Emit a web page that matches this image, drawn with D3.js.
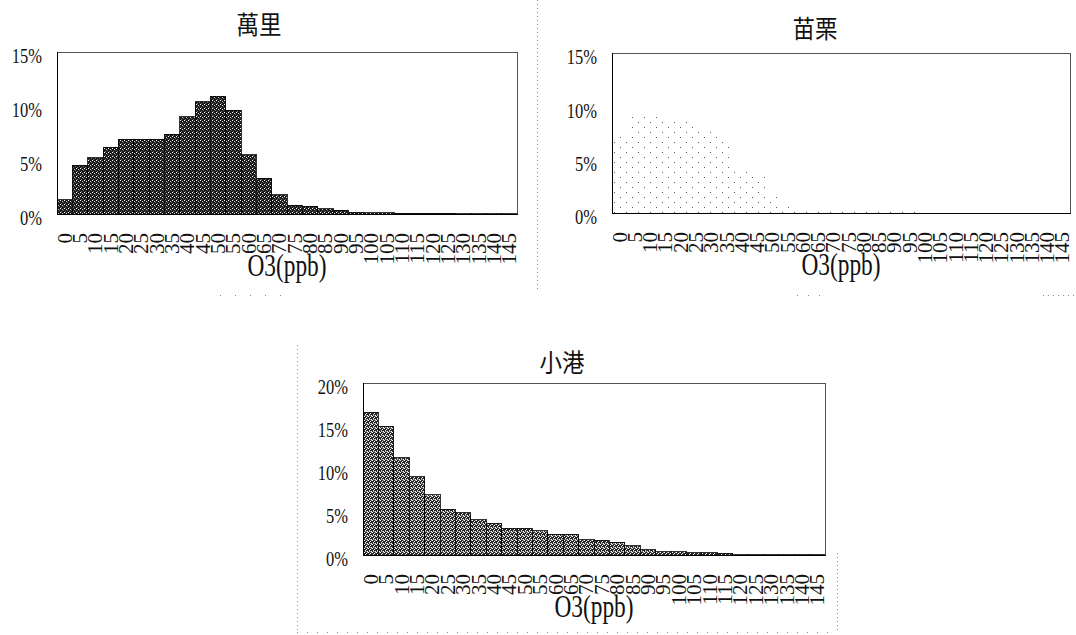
<!DOCTYPE html>
<html><head><meta charset="utf-8">
<script src="https://cdn.jsdelivr.net/npm/d3@7"></script>
<style>body{margin:0;background:#fff;} svg{display:block;}</style>
</head><body><svg id="c" width="1076" height="635"></svg>
<script>
const binLabels = ["0","5","10","15","20","25","30","35","40","45","50","55","60","65","70","75","80","85","90","95","100","105","110","115","120","125","130","135","140","145"];
const wanliValues = [1.3,4.5,5.2,6.2,6.9,6.9,6.9,7.4,9.0,10.4,10.9,9.6,5.5,3.3,1.8,0.8,0.7,0.5,0.35,0.15,0.1,0.1,0.05,0.05,0.05,0.05,0.03,0.03,0.02,0.02];
const miaoliValues = [7.1,9.2,9.0,8.8,8.7,8.3,7.6,7.0,4.0,3.4,1.8,0.6,0.5,0.4,0.3,0.25,0.2,0.05,0.05,0.05,0.03,0.03,0.03,0.02,0.02,0.02,0.02,0.02,0.02,0.02];
const xiaogangValues = [16.6,15.0,11.3,9.1,7.0,5.3,4.9,4.1,3.7,3.1,3.1,2.8,2.4,2.4,1.8,1.7,1.5,1.1,0.6,0.4,0.4,0.25,0.25,0.2,0.05,0.05,0.03,0.03,0.02,0.02];
const ticks15 = [0,5,10,15];
const ticks20 = [0,5,10,15,20];
const titles = ["萬里","苗栗","小港"];
const xTitle = "O3(ppb)";

const svg = d3.select("#c");
const defs = svg.append("defs");
function texPattern(id, base, px){
  const p = defs.append("pattern").attr("id", id).attr("patternUnits","userSpaceOnUse").attr("width",4).attr("height",4);
  p.append("rect").attr("width",4).attr("height",4).attr("fill",base);
  px.forEach(d => p.append("rect").attr("x",d[0]).attr("y",d[1]).attr("width",1).attr("height",1).attr("fill",d[2]));
}
texPattern("texDark", "#1a1a1a", [[0,0,"#fff"],[2,1,"#ccc"],[1,3,"#777"],[3,2,"#666"]]);
texPattern("texMid", "#262626", [[0,0,"#fff"],[2,1,"#fff"],[1,2,"#ddd"],[3,3,"#fff"],[1,3,"#aaa"],[3,0,"#999"],[2,3,"#777"]]);
const dp = defs.append("pattern").attr("id","dots").attr("patternUnits","userSpaceOnUse").attr("width",12).attr("height",10);
[[2,2],[8,7]].forEach(d => dp.append("rect").attr("x",d[0]).attr("y",d[1]).attr("width",1).attr("height",1).attr("fill","#555"));

const panels = [
  {title: titles[0], values: wanliValues, ticks: ticks15, max: 15, x0: 57, x1: 517, y0: 52, y1: 214, titleX: 259, titleY: 23, fill: "url(#texDark)", stroke: "#000"},
  {title: titles[1], values: miaoliValues, ticks: ticks15, max: 15, x0: 612, x1: 1070, y0: 53, y1: 213, titleX: 815, titleY: 27, fill: "url(#dots)", stroke: "none"},
  {title: titles[2], values: xiaogangValues, ticks: ticks20, max: 20, x0: 363, x1: 825, y0: 383, y1: 555, titleX: 562, titleY: 361, fill: "url(#texMid)", stroke: "#000"}
];

// faint dotted chart-area borders
const sep = svg.append("g").attr("stroke","#888").attr("stroke-width",1).attr("stroke-dasharray","1,3").attr("fill","none");
sep.append("line").attr("x1",537.5).attr("x2",537.5).attr("y1",0).attr("y2",292);
sep.append("line").attr("x1",297.5).attr("x2",297.5).attr("y1",345).attr("y2",633);
sep.append("line").attr("x1",297).attr("x2",837).attr("y1",632.5).attr("y2",632.5).attr("stroke-dasharray","1,9");
sep.append("line").attr("x1",837.5).attr("x2",837.5).attr("y1",553).attr("y2",633);
sep.append("line").attr("x1",220).attr("x2",290).attr("y1",295.5).attr("y2",295.5).attr("stroke-dasharray","1,14");
sep.append("line").attr("x1",797).attr("x2",830).attr("y1",295.5).attr("y2",295.5).attr("stroke-dasharray","1,10");
sep.append("line").attr("x1",1043).attr("x2",1076).attr("y1",295.5).attr("y2",295.5).attr("stroke-dasharray","1,4");

panels.forEach(P => {
  const g = svg.append("g");
  const x = d3.scaleBand().domain(binLabels).range([P.x0, P.x1]).padding(0);
  const y = d3.scaleLinear().domain([0, P.max]).range([P.y1, P.y0]);

  // bars
  g.append("g").selectAll("rect").data(P.values).join("rect")
    .attr("x", (d,i) => x(binLabels[i]))
    .attr("y", d => y(d))
    .attr("width", x.bandwidth())
    .attr("height", d => P.y1 - y(d))
    .attr("fill", P.fill)
    .attr("stroke", P.stroke)
    .attr("stroke-width", P.stroke === "none" ? 0 : 0.8)
    .attr("shape-rendering","crispEdges");

  // plot box
  g.append("rect").attr("x", P.x0 + 0.5).attr("y", P.y0 + 0.5)
    .attr("width", P.x1 - P.x0).attr("height", P.y1 - P.y0)
    .attr("fill","none").attr("stroke","#555").attr("stroke-width",1).attr("shape-rendering","crispEdges");
  g.append("line").attr("x1", P.x0 + 0.5).attr("x2", P.x0 + 0.5).attr("y1", P.y0).attr("y2", P.y1 + 1)
    .attr("stroke","#000").attr("shape-rendering","crispEdges");
  g.append("line").attr("x1", P.x0).attr("x2", P.x1 + 1).attr("y1", P.y1 + 0.5).attr("y2", P.y1 + 0.5)
    .attr("stroke","#000").attr("shape-rendering","crispEdges");

  // y labels
  g.append("g").selectAll("text").data(P.ticks).join("text")
    .attr("transform", d => `translate(${P.x0 - 15},${y(d) + 4}) scale(0.75,1)`)
    .attr("text-anchor","end").attr("dominant-baseline","central")
    .attr("font-family","'Liberation Serif', serif").attr("font-size",22).attr("fill","#111")
    .text(d => d + "%");

  // x tick labels (rotated)
  g.append("g").selectAll("text").data(binLabels).join("text")
    .attr("transform", d => `translate(${x(d) + x.bandwidth()/2},${P.y1 + 19}) rotate(-90)`)
    .attr("text-anchor","end").attr("dominant-baseline","central")
    .attr("font-family","'Liberation Serif', serif").attr("font-size",21).attr("fill","#111")
    .text(d => d);

  // x title
  g.append("text")
    .attr("transform", `translate(${(P.x0 + P.x1)/2},${P.y1 + 62}) scale(0.73,1)`)
    .attr("text-anchor","middle")
    .attr("font-family","'Liberation Serif', serif").attr("font-size",32).attr("fill","#111")
    .text(xTitle);

  // chart title
  g.append("text")
    .attr("transform", `translate(${P.titleX},${P.titleY}) scale(0.9,1)`)
    .attr("text-anchor","middle").attr("dominant-baseline","central")
    .attr("font-family","'Noto Sans CJK TC', sans-serif").attr("font-size",25).attr("fill","#111")
    .text(P.title);
});
</script></body></html>
